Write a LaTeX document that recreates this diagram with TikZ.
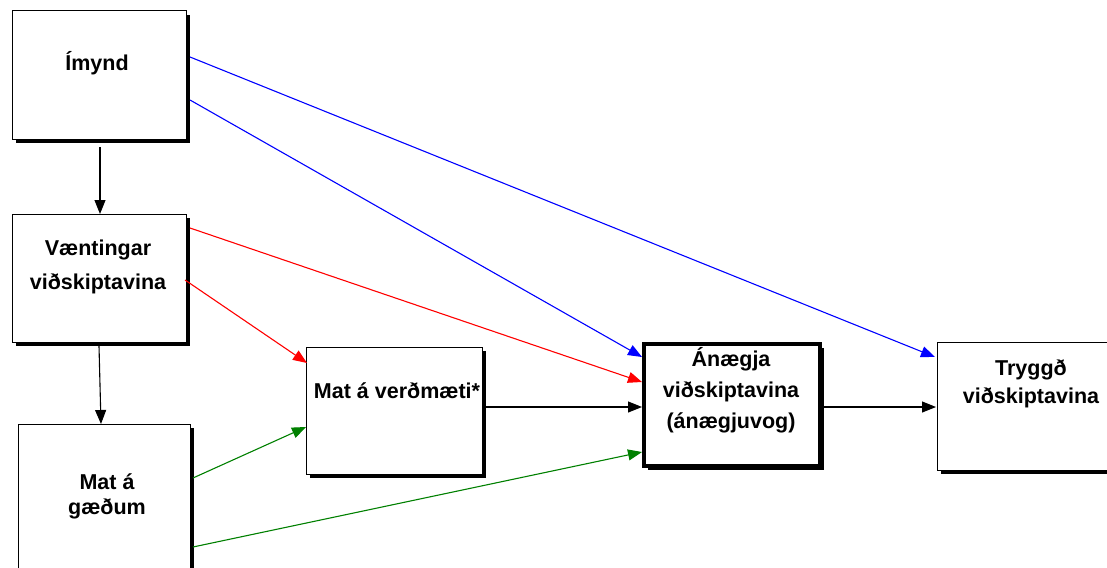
\documentclass[tikz,border=0pt]{standalone}
\usepackage{fontspec}
\setmainfont{Liberation Sans}
\usetikzlibrary{arrows.meta,shadows,calc}
\newcommand\mylines[2]{\fontsize{21.5}{#1}\selectfont\bfseries\begin{tabular}[t]{@{}c@{}}#2\end{tabular}}
\definecolor{dgreen}{RGB}{0,128,0}
\begin{document}
\begin{tikzpicture}[x=1pt,y=-1pt,
  box/.style={draw=black, line width=1pt, fill=white, anchor=north west, inner sep=0pt, outer sep=0pt,
    drop shadow={shadow xshift=4pt, shadow yshift=-4pt, fill=black, opacity=1}},
  thickbox/.style={box, line width=4pt},
  txt/.style={anchor=base, inner sep=0pt},
  conn/.style={line width=1.1pt, -{Triangle[length=14pt,width=11pt]}},
]
\useasboundingbox (0,0) rectangle (1107,567);
\clip (0,0) rectangle (1107,567);
% boxes
\node[box, minimum width=174pt, minimum height=128pt] (imynd) at (12,11) {};
\node[box, minimum width=174pt, minimum height=128pt] (vaent) at (12,214) {};
\node[box, minimum width=172pt, minimum height=190pt] (matg) at (18,424) {};
\node[box, minimum width=176pt, minimum height=127pt] (matv) at (306,347) {};
\node[thickbox, minimum width=176pt, minimum height=122pt] (anaegja) at (644,344) {};
\node[box, minimum width=200pt, minimum height=128pt] (tryggd) at (937,342) {};
% texts
\node[txt] (t1) at (97,71) {\mylines{30}{Ímynd}};
\node[txt] (t2) at (98,255) {\mylines{34}{Væntingar\\viðskiptavina}};
\node[txt] (t3) at (107,489) {\mylines{25}{Mat á\\gæðum}};
\node[txt] (t4) at (397,398) {\mylines{30}{Mat á verðmæti*}};
\node[txt] (t5) at (731,366) {\mylines{31}{Ánægja\\viðskiptavina\\(ánægjuvog)}};
\node[txt] (t6) at (1031,375) {\mylines{28}{Tryggð\\viðskiptavina}};
% connectors
\draw[conn, blue] ($(imynd.north east)+(4,46)$) -- ($(tryggd.north west)+(-2,15)$);
\draw[conn, blue] ($(imynd.north east)+(4,89)$) -- ($(anaegja.north west)+(-2,13)$);
\draw[conn, red] ($(vaent.north east)+(4,14)$) -- ($(anaegja.north west)+(-2,38)$);
\draw[conn, red] ($(vaent.north east)+(-1,66)$) -- ($(matv.north west)+(1,16)$);
\draw[conn, dgreen] ($(matg.north east)+(3,54)$) -- ($(matv.north west)+(0,80)$);
\draw[conn, dgreen] ($(matg.north east)+(3,123)$) -- ($(anaegja.north west)+(-2,108)$);
\draw[conn, black] ($(matv.north east)+(3,60)$) -- ($(anaegja.north west)+(-2,63)$);
\draw[conn, black] ($(anaegja.north east)+(2,63)$) -- ($(tryggd.north west)+(-1,65)$);
\draw[conn, black] ($(imynd.south)+(1,8)$) -- ($(vaent.north)+(1,0)$);
\draw[conn, black] ($(vaent.south)+(0,4)$) -- ($(matg.north)+(-3,0)$);
\end{tikzpicture}
\end{document}
